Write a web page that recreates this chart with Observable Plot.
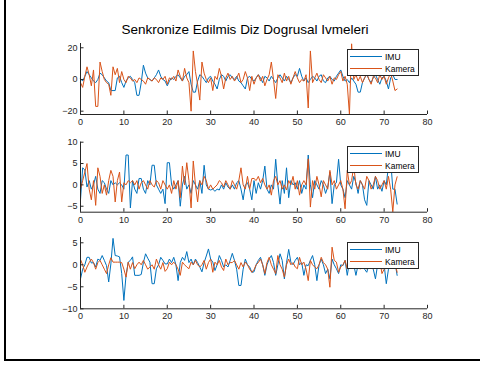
<!DOCTYPE html>
<html><head><meta charset="utf-8">
<script src="https://cdn.jsdelivr.net/npm/d3@7"></script>
<script src="https://cdn.jsdelivr.net/npm/@observablehq/plot@0.6"></script>
<style>
body{margin:0;background:#fff;}
#fig{position:relative;width:480px;height:368px;overflow:hidden;font-family:"Liberation Sans",Arial,Helvetica,sans-serif;background:#fff;}
#frame{position:absolute;left:4px;top:-2px;width:480px;height:363px;border-left:2px solid #000;border-bottom:2px solid #000;box-sizing:border-box;}
#title{position:absolute;left:0;width:490px;top:22px;text-align:center;font-size:13.5px;line-height:16px;color:#000;white-space:nowrap;}
.plot{position:absolute;left:0;top:0;}
.leg{position:absolute;left:347px;width:72px;height:27px;border:1px solid #262626;background:#fff;box-sizing:border-box;}
.leg .ln{position:absolute;left:2px;width:32px;height:0;border-top:1.2px solid;}
.leg .tx{position:absolute;left:37px;font-size:8.5px;line-height:10px;color:#000;white-space:nowrap;}
</style>
</head><body>
<div id="fig">
  <div id="title">Senkronize Edilmis Diz Dogrusal Ivmeleri</div>
</div>
<script>
const title = "Senkronize Edilmis Diz Dogrusal Ivmeleri";
const seriesNames = ["IMU", "Kamera"];
const seriesColors = ["#0072BD", "#D95319"];
const xTicks = [0, 10, 20, 30, 40, 50, 60, 70, 80];
const yTicks1 = [-20, 0, 20];
const yTicks2 = [-5, 0, 5, 10];
const yTicks3 = [-10, -5, 0, 5];
const yLim1 = [-22.1, 22.7];
const yLim2 = [-6.4, 10];
const yLim3 = [-10, 6.2];

const t = [
0,0.5,1,1.5,2,2.5,3,3.5,4,4.5,
5,5.5,6,6.5,7,7.5,8,8.5,9,9.5,
10,10.5,11,11.5,12,12.5,13,13.5,14,14.5,
15,15.5,16,16.5,17,17.5,18,18.5,19,19.5,
20,20.5,21,21.5,22,22.5,23,23.5,24,24.5,
25,25.5,26,26.5,27,27.5,28,28.5,29,29.5,
30,30.5,31,31.5,32,32.5,33,33.5,34,34.5,
35,35.5,36,36.5,37,37.5,38,38.5,39,39.5,
40,40.5,41,41.5,42,42.5,43,43.5,44,44.5,
45,45.5,46,46.5,47,47.5,48,48.5,49,49.5,
50,50.5,51,51.5,52,52.5,53,53.5,54,54.5,
55,55.5,56,56.5,57,57.5,58,58.5,59,59.5,
60,60.5,61,61.5,62,62.5,63,63.5,64,64.5,
65,65.5,66,66.5,67,67.5,68,68.5,69,69.5,
70,70.5,71,71.5,72,72.5,73];

const imu1 = [
0.5,-1,2,5,3,1,-1,-2,0,4,
3,1,-1,-2,-7,-7,-7,1,2,-2,
-5,-1,1,2,0,-2,-10,-10,-2,9,
4,1,0,-1,1,3,6,2,0,-1,
-4,-1,1,0,2,3,1,-1,2,3,
5,-3,-8,-8,-1,3,2,0,-2,1,
2,-1,-3,-6,0,3,2,-1,2,3,
1,0,2,-1,-2,-4,-6,1,2,0,
-1,1,3,1,-2,2,1,-1,2,0,
-2,1,3,1,-1,2,0,-2,1,3,
2,7,2,-1,1,-2,0,2,1,-1,
2,3,-1,-2,1,2,0,-1,2,4,
6,2,-1,0,-2,1,-1,-3,-8,-8,
-2,1,3,0,-2,1,3,0,-3,1,
2,-1,-6,1,3,0,0];

const kam1 = [
-2,-5,2,8,3,-4,6,-17,-17,11,
5,0,-2,-3,-10,8,3,7,-2,5,
0,-2,2,1,-1,0,-2,1,0,-1,
-3,1,0,-1,1,0,-2,1,0,2,
-3,1,0,2,-1,6,2,-1,7,1,
-2,-20,18,5,-3,-13,11,4,0,-2,
1,-7,2,0,7,2,-6,1,4,0,
2,-1,1,4,-2,0,5,1,-7,2,
-3,1,3,-1,2,-4,0,3,11,0,
-12,3,1,-2,4,-1,2,-3,1,5,
1,-2,0,-1,3,-18,18,-2,1,4,
0,-2,3,1,-1,2,-3,1,0,3,
5,-1,2,-3,-22,22.5,0,3,-1,2,
-2,1,4,0,-3,2,1,-2,3,0,
2,-3,1,4,-1,-7,-6];

const imu2 = [
-3.5,4,3.5,-0.5,1,-1,0,2,-1,-2,
1,0.5,-1,-2,1,0,0.5,0,0.5,0,
-1,7,7,-5.4,1,-1,-2,1.5,1.5,-1,
-2,1,0,4.6,4.6,0,-1,-2,-1,-4.4,
5.2,5.2,0,-1,0,1,-5,0,2,-1,
0,-2,1,0,-1,1,-2,4.6,0,-1,
-1.2,-1,-1.5,-1,-1.2,0,-1,0.5,-0.5,-1,
0,-1,0.5,1,-1,-3.5,0,0.5,-1,-3.5,
1,-2,0.5,-1,1,4.4,-1,-2,0,-1,
6,0,-4.5,1,-2,4,-3,1,0,0.5,
-1,1,-2,0,-1,7,0,-3,1,0,
-1,1,0,-2,-0.5,3,-4.4,0,0.5,6,
0,-1,-3,1,0,-1,2,0.5,-2,1,
0,-3.5,-4.8,1,0,-1,2,-1,0,-1.5,
1,0,4.5,6,-1,-1,-4.5];

const kam2 = [
-1,1,3,5,-1,-3.5,1,-4.8,4,2,
-2,0,-2.4,1,3.4,2,-4,1,3,-4,
0.5,0,1,0.5,1,0,1,-1,0.5,1,
0,-1,1,0,-0.5,1,0.5,-1,1,0,
-1,0,-2,1,-1,1,-3,4.4,0,5.2,
1,-5.4,5.6,0,-4,1,0,2,1,-1,
0,-1,-0.5,0,1,0.5,-0.5,1,0,-1,
1,0,-1,1,4,0,-1,2,-1,1.5,
1.5,1,2,0.5,1.5,0,-1,0,-2.4,1,
2,0,1,-1,0,-1.2,1,0,2,-1,
1,-2.4,0,1,0,6.1,-5.2,1,-1,2,
0,-2.8,1,0,-1,3.4,0,1,-1,0,
1,-1,-5.6,3.4,0,1,4.4,0,-1,1,
0,-1,2,1,-1,0,2,1,-1,0,
1,-1,2,-1,-6.3,0,1.9];

const imu3 = [
-3.2,-1,0,1.7,1.7,0.4,0.5,-0.5,1.3,1,
2.1,1,-0.2,-3.9,0.2,6,2.1,2,1.8,-2,
-8.1,-2.4,0.6,1,1.8,-2.4,-2.4,-2.4,-2.2,0.5,
2.5,1.5,0.6,-4.3,-4.3,-0.9,0,1.7,1,0.2,
0.2,1.3,0.5,1.7,0,-3.6,0.5,1.7,1,3,
0.5,1.3,0,1.3,0.5,-0.5,-1.6,0.5,2,3.6,
1.3,0.6,-1.3,0,2.1,1,-0.5,0,-0.5,1,
2.6,1,-1,-4.7,-4.7,-1,1.3,0,-0.5,-1.7,
-1.6,0,1,1.7,0,-2.4,0,1.3,2.1,0.5,
-2.4,0,2.5,1,-3.2,0.5,3.5,0.6,0,1,
1.7,0,0.5,-2.4,0,-0.2,1,2.1,0,-3.6,
0,1.3,0,-2,-1,-3.2,1.3,0,-0.9,-2,
0,-0.2,1,-2.4,0.5,1,0,-2.4,0,1,
0,-1,-1.7,0,1,-1,-3.2,0,1,-1,
0,-4.3,-1,1,0,0.5,-2.4];

const kam3 = [
1.2,0,-1.7,-0.5,0.5,1.3,0.5,-1,0.5,1,
0,-1,-2,0,1.6,0.6,0.6,0.6,0.6,0.5,
-1,-2.8,0.6,-1,0.5,-0.9,0,0.6,0,1,
0,-1,-0.5,0,-1,1.3,0,-1,0.5,-1.5,
-0.9,0.6,0,0.6,0,-1,-2.4,0.6,0,-0.5,
-0.9,0.6,0,1,0,-0.5,0,1,-1,0.5,
1.3,-1.7,0.6,0,1,-0.5,-1.3,1.3,0,0.5,
0.5,1,0,-1,0.5,-0.5,0.6,0,-1,-1.7,
-1.1,0,0.5,1.3,0,-2,0.5,1.7,0,-1,
-2,2.1,0,-1,-2.8,0,1.3,0,0.5,-0.5,
-0.9,1.7,0,0.6,-1,-3.6,1,0,-0.5,-0.9,
0,1.7,0.5,0,-1,-5.1,4,1,0.6,-1.7,
-0.5,0,1,-1,0,0.5,-0.5,0,1,-1,
0,1,-1,0,0.5,-1,0,-0.5,1,-2,
-1,0,1,-0.5,0,0.5,-1.7];

const fig = document.getElementById("fig");
const AX = "#262626";
const W = 480, H = 368, LEFT = 80, RIGHT = 427;

function subplot(imu, kam, yLim, yTicks, top, bottom) {
  const n = Math.min(t.length, imu.length, kam.length);
  const data = [];
  for (let i = 0; i < n; i++) data.push({t: t[i], imu: imu[i], kam: kam[i]});
  const plotH = bottom - top;
  const p = Plot.plot({
    width: W, height: H,
    marginLeft: LEFT, marginRight: W - RIGHT, marginTop: top, marginBottom: H - bottom,
    style: {background: "transparent", fontFamily: '"Liberation Sans", Arial, sans-serif', fontSize: "9px", color: AX, overflow: "visible"},
    x: {domain: [0, 80], label: null},
    y: {domain: yLim, label: null},
    marks: [
      Plot.line(data, {x: "t", y: "imu", stroke: seriesColors[0], strokeWidth: 1}),
      Plot.line(data, {x: "t", y: "kam", stroke: seriesColors[1], strokeWidth: 1}),
      Plot.ruleY([yLim[0]], {stroke: AX, strokeWidth: 1}),
      Plot.ruleX([0], {stroke: AX, strokeWidth: 1}),
      Plot.tickX(xTicks, {x: d => d, stroke: AX, insetTop: plotH - 3.5}),
      Plot.tickY(yTicks, {y: d => d, stroke: AX, insetRight: (RIGHT - LEFT) - 3.5}),
      Plot.axisX(xTicks, {tickSize: 0, tickPadding: 4, fill: AX, label: null}),
      Plot.axisY(yTicks, {tickSize: 0, tickPadding: 3, fill: AX, label: null})
    ]
  });
  p.classList.add("plot");
  p.style.position = "absolute";
  p.style.left = "0px";
  p.style.top = "0px";
  fig.appendChild(p);
}

function legend(top) {
  const box = document.createElement("div");
  box.className = "leg";
  box.style.top = top + "px";
  const rows = [8, 20];
  seriesNames.forEach((name, i) => {
    const ln = document.createElement("div");
    ln.className = "ln";
    ln.style.top = (rows[i] - 1.6) + "px";
    ln.style.borderTopColor = seriesColors[i];
    const tx = document.createElement("div");
    tx.className = "tx";
    tx.style.top = (rows[i] - 6.5) + "px";
    tx.textContent = name;
    box.appendChild(ln);
    box.appendChild(tx);
  });
  fig.appendChild(box);
}

subplot(imu1, kam1, yLim1, yTicks1, 43, 114);
subplot(imu2, kam2, yLim2, yTicks2, 141.7, 211.7);
subplot(imu3, kam3, yLim3, yTicks3, 237, 308.3);
legend(49);
legend(146);
legend(242);

const fr = document.createElement("div");
fr.id = "frame";
fig.appendChild(fr);
</script>
</body></html>
